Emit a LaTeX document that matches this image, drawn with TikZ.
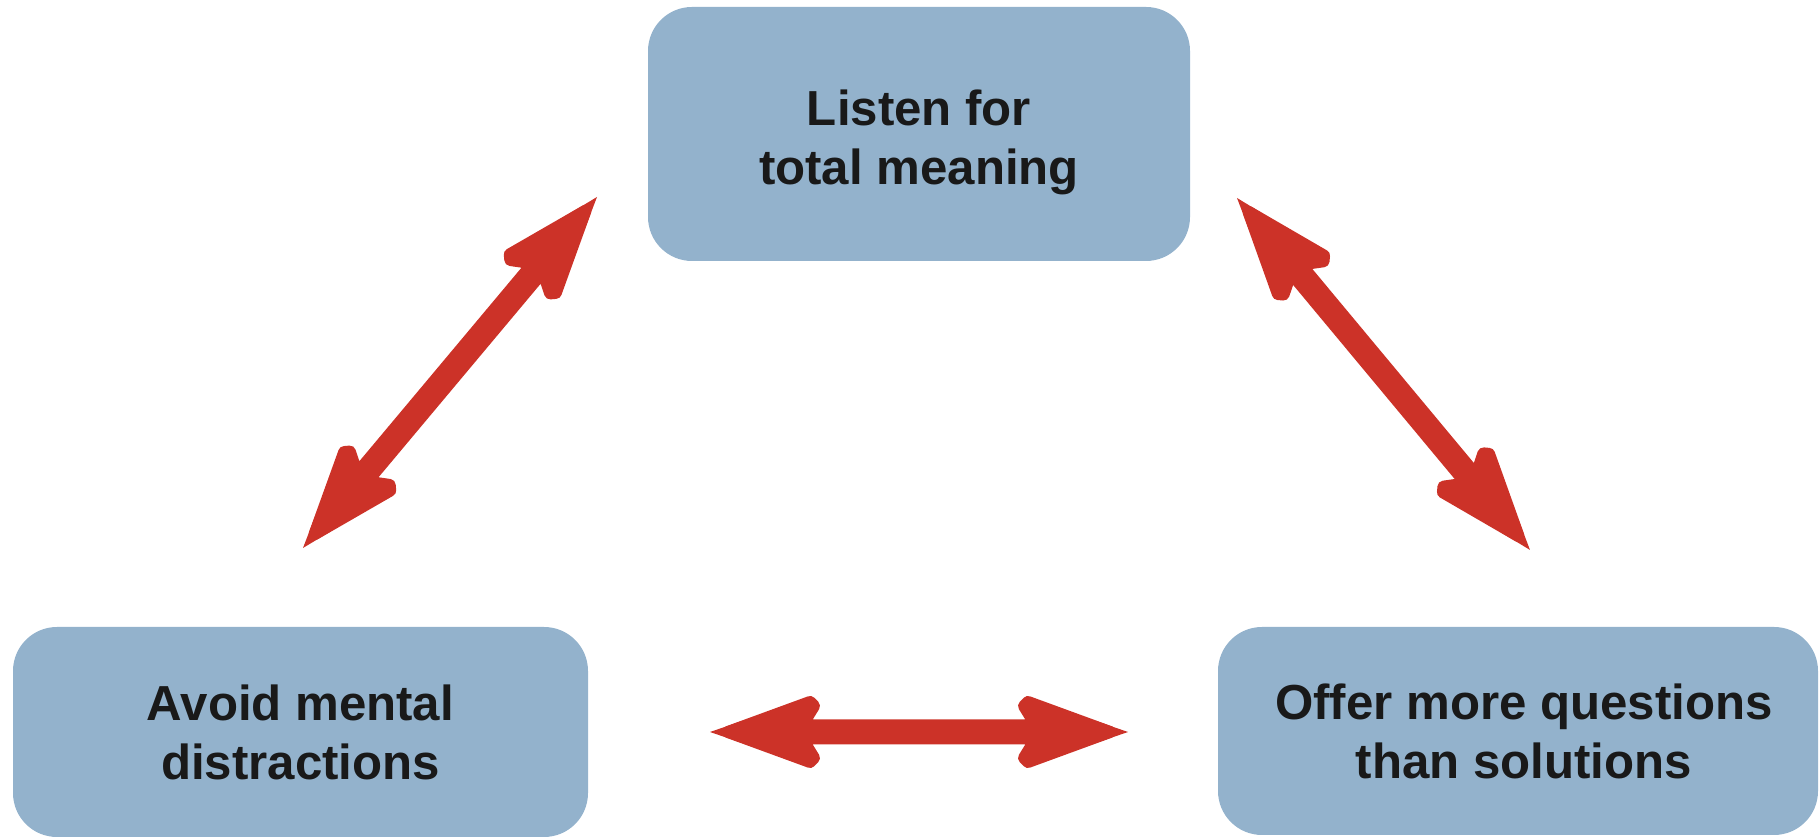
\documentclass[tikz,border=0pt]{standalone}
\usepackage{fontspec}
\setmainfont{Liberation Sans}
\usetikzlibrary{calc}
\definecolor{boxblue}{RGB}{147,178,204}
\definecolor{arrowred}{RGB}{204,50,40}
\definecolor{txtcol}{RGB}{25,25,25}
\newcommand\myshiftdown[1]{\raisebox{-4pt}[\height][\depth]{#1}}
\tikzset{
  box/.style={fill=boxblue, rounded corners=22pt, inner sep=0pt, align=center,
    font=\bfseries\fontsize{24.6pt}{29.5pt}\selectfont, text=txtcol},
  dblarr/.style={fill=arrowred, draw=arrowred, line width=6pt, line join=round},
  arrtip/.style={fill=arrowred},
}
\newcommand\mydblarrow[2]{%
  \path[dblarr] let \p1=($(#2)-(#1)$), \n1={atan2(\y1,\x1)}, \n2={veclen(\x1,\y1)} in
    [shift={(#1)}, rotate=\n1]
    (9pt,0pt) -- (50pt,15pt) -- (52pt,13pt) -- (46pt,3.25pt)
    -- (\n2-46pt,3.25pt) -- (\n2-52pt,13pt) -- (\n2-50pt,15pt)
    -- (\n2-9pt,0pt)
    -- (\n2-50pt,-15pt) -- (\n2-52pt,-13pt) -- (\n2-46pt,-3.25pt)
    -- (46pt,-3.25pt) -- (52pt,-13pt) -- (50pt,-15pt) -- cycle;
  \path[arrtip] let \p1=($(#2)-(#1)$), \n1={atan2(\y1,\x1)}, \n2={veclen(\x1,\y1)} in
    [shift={(#1)}, rotate=\n1]
    (0pt,0pt) -- (16pt,5.5pt) -- (16pt,-5.5pt) -- cycle
    (\n2,0pt) -- (\n2-16pt,5.5pt) -- (\n2-16pt,-5.5pt) -- cycle;}
\begin{document}
\begin{tikzpicture}[x=1pt,y=1pt]
  \useasboundingbox (0,0) rectangle (910,419);
  \node[box, minimum width=271pt, minimum height=127pt] (top) at (459.5,352) {\myshiftdown{Listen for}\\\myshiftdown{total meaning}};
  \node[box, minimum width=287.5pt, minimum height=105pt] (left) at (150.25,53) {Avoid mental\\distractions};
  \node[box, minimum width=300pt, minimum height=104pt] (right) at (759,53.5) {\hspace*{6pt}Offer more questions\\\hspace*{6pt}than solutions};
  \coordinate (l1) at (151.5,145);
  \coordinate (l2) at (298.5,320.5);
  \coordinate (r1) at (618.5,320);
  \coordinate (r2) at (765,144);
  \coordinate (h1) at (355,53);
  \coordinate (h2) at (564,53);
  \mydblarrow{l1}{l2}
  \mydblarrow{r1}{r2}
  \mydblarrow{h1}{h2}
\end{tikzpicture}
\end{document}
